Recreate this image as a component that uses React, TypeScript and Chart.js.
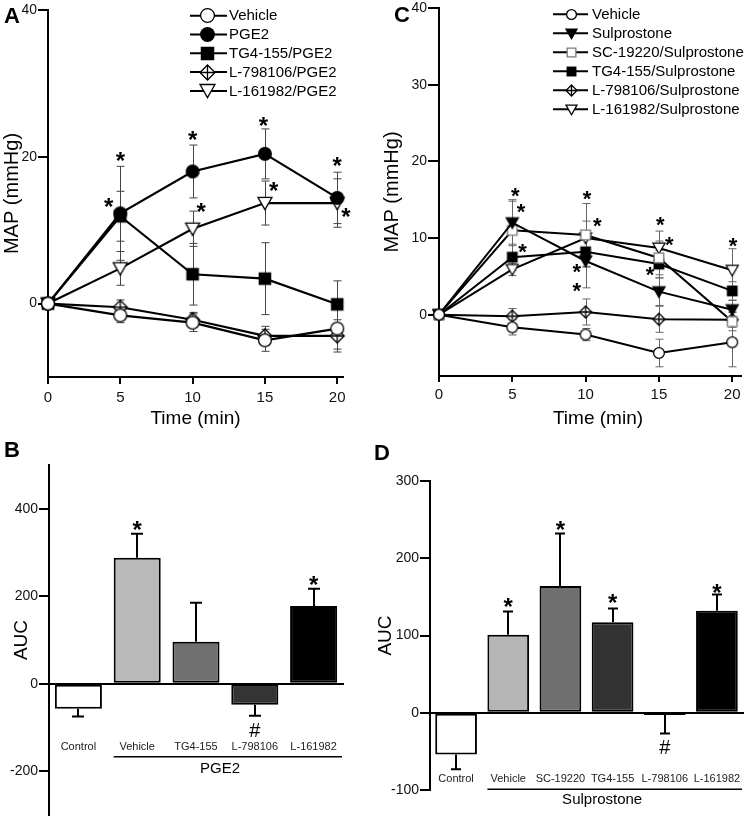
import React, { useEffect, useRef } from 'react';
import { Chart, registerables } from 'chart.js';

Chart.register(...registerables);

const FONT = "'Liberation Sans', Arial, Helvetica, sans-serif";

// ---------- shared time axis ----------
const timeMin = [0, 5, 10, 15, 20];
const timeTicks = [0, 5, 10, 15, 20];

// ---------- Panel A: PGE2 time course ----------
const aYTicks = [0, 20, 40];
const aNames = ['Vehicle', 'PGE2', 'TG4-155/PGE2', 'L-798106/PGE2', 'L-161982/PGE2'];
const aVehicle = [0, -1.6, -2.6, -5.0, -3.4];
const aVehicleSem = [0, 1.0, 1.2, 1.5, 2.8];
const aPGE2 = [0, 12.3, 18.0, 20.4, 14.4];
const aPGE2Sem = [0, 6.4, 3.6, 3.4, 3.5];
const aTG4 = [0, 11.9, 4.0, 3.4, -0.1];
const aTG4Sem = [0, 3.4, 4.2, 4.9, 3.2];
const aL798 = [0, -0.5, -2.2, -4.4, -4.4];
const aL798Sem = [0, 1.0, 1.0, 1.3, 2.2];
const aL161 = [0, 4.8, 10.2, 13.7, 13.7];
const aL161Sem = [0, 2.3, 2.4, 3.0, 3.3];
const aMarkers = ['circleOpen', 'circleFilled', 'squareFilled', 'diamondCross', 'triDownOpen'];
const aStarX = [5.0, 4.2, 10.0, 10.6, 14.9, 15.6, 20.0, 20.6];
const aStarY = [19.9, 13.6, 22.8, 12.9, 24.7, 15.8, 19.2, 12.3];

// ---------- Panel C: Sulprostone time course ----------
const cYTicks = [0, 10, 20, 30, 40];
const cNames = ['Vehicle', 'Sulprostone', 'SC-19220/Sulprostone', 'TG4-155/Sulprostone', 'L-798106/Sulprostone', 'L-161982/Sulprostone'];
const cVehicle = [0, -1.65, -2.6, -5.0, -3.6];
const cVehicleSem = [0, 1.0, 0.8, 1.8, 3.2];
const cSulpro = [0, 12.0, 7.0, 3.0, 0.65];
const cSulproSem = [0, 3.0, 3.5, 1.8, 1.2];
const cSC = [0, 11.0, 10.4, 7.4, -0.9];
const cSCSem = [0, 3.8, 4.1, 2.2, 1.2];
const cTG4 = [0, 7.5, 8.2, 6.6, 3.1];
const cTG4Sem = [0, 1.7, 2.0, 1.8, 1.2];
const cL798 = [0, -0.2, 0.35, -0.6, -0.65];
const cL798Sem = [0, 1.0, 1.7, 1.7, 1.0];
const cL161 = [0, 5.9, 10.0, 8.7, 5.8];
const cL161Sem = [0, 0.8, 2.2, 2.2, 2.8];
const cMarkers = ['circleOpen', 'triDownFilled', 'squareOpenGray', 'squareFilled', 'diamondCross', 'triDownOpen'];
const cStarX = [5.2, 5.6, 5.7, 10.1, 10.8, 9.4, 9.4, 15.1, 15.7, 14.4, 20.05];
const cStarY = [15.9, 13.8, 8.6, 15.6, 12.0, 6.0, 3.6, 12.1, 9.6, 5.7, 9.4];

// ---------- Panel B: AUC PGE2 ----------
const bCategories = ['Control', 'Vehicle', 'TG4-155', 'L-798106', 'L-161982'];
const bAUC = [-57, 288, 96, -48, 178];
const bSem = [18, 55, 89, 25, 39];
const bColors = ['#ffffff', '#b9b9b9', '#707070', '#343434', '#000000'];
const bYTicks = [-200, 0, 200, 400];
const bStarIdx = [1, 4];
const bStarY = [359, 233];
const bHashIdx = [3];
const bHashY = [-107];
const bGroup = 'PGE2';

// ---------- Panel D: AUC Sulprostone ----------
const dCategories = ['Control', 'Vehicle', 'SC-19220', 'TG4-155', 'L-798106', 'L-161982'];
const dAUC = [-54, 101, 164, 117, -3, 132];
const dSem = [19, 30, 68, 18, 24, 21];
const dColors = ['#ffffff', '#b6b6b6', '#6f6f6f', '#333333', '#222222', '#000000'];
const dYTicks = [-100, 0, 100, 200, 300];
const dStarIdx = [1, 2, 3, 5];
const dStarY = [142, 241, 146, 160];
const dHashIdx = [4];
const dHashY = [-45];
const dGroup = 'Sulprostone';

const STAR_RISE = 0.48;

function makeMarker(kind: string, size: number): HTMLCanvasElement {
  const s = Math.ceil(size) + 4;
  const c = document.createElement('canvas');
  c.width = s;
  c.height = s;
  const g = c.getContext('2d') as CanvasRenderingContext2D;
  const m = s / 2;
  const r = size / 2;
  g.lineWidth = 1.3;
  g.strokeStyle = '#000';
  g.fillStyle = '#fff';
  g.beginPath();
  if (kind === 'circleOpen') {
    g.arc(m, m, r - 0.6, 0, Math.PI * 2);
    g.fill();
    g.stroke();
  } else if (kind === 'circleFilled') {
    g.arc(m, m, r, 0, Math.PI * 2);
    g.fillStyle = '#000';
    g.fill();
  } else if (kind === 'squareFilled') {
    g.fillStyle = '#000';
    g.fillRect(m - r * 0.9, m - r * 0.9, 1.8 * r, 1.8 * r);
  } else if (kind === 'squareOpenGray') {
    g.strokeStyle = '#7a7a7a';
    g.rect(m - r * 0.9 + 0.6, m - r * 0.9 + 0.6, 1.8 * r - 1.2, 1.8 * r - 1.2);
    g.fill();
    g.stroke();
  } else if (kind === 'diamondCross') {
    g.moveTo(m, m - r);
    g.lineTo(m + r, m);
    g.lineTo(m, m + r);
    g.lineTo(m - r, m);
    g.closePath();
    g.fill();
    g.stroke();
    g.beginPath();
    g.moveTo(m - r, m);
    g.lineTo(m + r, m);
    g.moveTo(m, m - r);
    g.lineTo(m, m + r);
    g.stroke();
  } else if (kind === 'triDownOpen' || kind === 'triDownFilled') {
    const top = m - r * 0.8;
    const bot = m + r * 0.95;
    g.moveTo(m - r, top);
    g.lineTo(m + r, top);
    g.lineTo(m, bot);
    g.closePath();
    if (kind === 'triDownFilled') g.fillStyle = '#000';
    g.fill();
    g.stroke();
  }
  return c;
}

function zeroPad(s: any) {
  s.paddingLeft = 0;
  s.paddingRight = 0;
  s.paddingTop = 0;
  s.paddingBottom = 0;
}

function buildLine(canvas: HTMLCanvasElement, cfg: any) {
  const plotImgs = cfg.markers.map((k: string) => makeMarker(k, cfg.markerSize));
  const legendImgs = cfg.markers.map((k: string) => makeMarker(k, cfg.legendMarkerSize));
  const datasets = cfg.series.map((s: any, i: number) => ({
    label: s.name,
    data: timeMin.map((t, j) => ({ x: t, y: s.values[j] })),
    borderColor: '#000',
    backgroundColor: '#000',
    borderWidth: cfg.lineWidth,
    pointStyle: plotImgs[i],
    pointRadius: cfg.markerSize / 2,
    pointHoverRadius: cfg.markerSize / 2,
    clip: false,
    tension: 0,
    fill: false,
  }));
  const plugin = {
    id: 'extrasLine',
    beforeDatasetsDraw(chart: any) {
      const ctx = chart.ctx;
      const xs = chart.scales.x;
      const ys = chart.scales.y;
      ctx.save();
      ctx.strokeStyle = cfg.errColor;
      ctx.lineWidth = 1;
      cfg.series.forEach((s: any) => {
        s.values.forEach((v: number, j: number) => {
          const e = s.errors[j];
          if (!e) return;
          const px = Math.round(xs.getPixelForValue(timeMin[j])) + 0.5;
          const yt = ys.getPixelForValue(v + e);
          const yb = ys.getPixelForValue(v - e);
          ctx.beginPath();
          ctx.moveTo(px, yt);
          ctx.lineTo(px, yb);
          ctx.moveTo(px - cfg.cap, yt);
          ctx.lineTo(px + cfg.cap, yt);
          ctx.moveTo(px - cfg.cap, yb);
          ctx.lineTo(px + cfg.cap, yb);
          ctx.stroke();
        });
      });
      ctx.restore();
    },
    afterDraw(chart: any) {
      const ctx = chart.ctx;
      const xs = chart.scales.x;
      const ys = chart.scales.y;
      ctx.save();
      ctx.fillStyle = '#000';
      ctx.font = `bold ${cfg.starSize}px ${FONT}`;
      ctx.textAlign = 'center';
      ctx.textBaseline = 'alphabetic';
      cfg.starX.forEach((sx: number, i: number) => {
        ctx.fillText('*', xs.getPixelForValue(sx), ys.getPixelForValue(cfg.starY[i]) + cfg.starSize * STAR_RISE);
      });
      const L = cfg.legend;
      cfg.series.forEach((s: any, i: number) => {
        const y = L.y0 + i * L.dy;
        ctx.strokeStyle = '#000';
        ctx.lineWidth = 2;
        ctx.beginPath();
        ctx.moveTo(L.x1, y);
        ctx.lineTo(L.x2, y);
        ctx.stroke();
        const img = legendImgs[i];
        ctx.drawImage(img, Math.round(L.xm - img.width / 2), Math.round(y - img.height / 2));
        ctx.font = `${L.fontSize}px ${FONT}`;
        ctx.textAlign = 'left';
        ctx.textBaseline = 'middle';
        ctx.fillStyle = '#000';
        ctx.fillText(s.name, L.xt, y + 0.5);
      });
      if (cfg.xTitleX !== undefined) {
        ctx.font = `19px ${FONT}`;
        ctx.textAlign = 'center';
        ctx.textBaseline = 'middle';
        ctx.fillText('Time (min)', cfg.xTitleX, cfg.xTitleY);
      }
      ctx.font = `bold ${cfg.letter.size}px ${FONT}`;
      ctx.textAlign = 'left';
      ctx.textBaseline = 'alphabetic';
      ctx.fillText(cfg.letter.text, cfg.letter.x, cfg.letter.y);
      ctx.restore();
    },
  };
  return new Chart(canvas, {
    type: 'line',
    data: { datasets },
    options: {
      responsive: false,
      animation: false,
      events: [],
      layout: { padding: cfg.padding },
      plugins: { legend: { display: false }, tooltip: { enabled: false } },
      scales: {
        x: {
          type: 'linear',
          min: 0,
          max: cfg.xMax,
          afterBuildTicks: (s: any) => {
            s.ticks = timeTicks.map((v) => ({ value: v }));
          },
          afterFit: (s: any) => {
            s.height = cfg.xAxisHeight;
            zeroPad(s);
          },
          grid: { display: true, drawOnChartArea: false, drawTicks: true, tickLength: cfg.xTickLen, color: '#000', lineWidth: 2 },
          border: { display: true, color: '#000', width: 2 },
          ticks: { font: { family: FONT, size: 15 }, color: '#111', padding: cfg.xTickPad, maxRotation: 0, autoSkip: false },
          title: { display: cfg.xTitleX === undefined, text: 'Time (min)', font: { family: FONT, size: 19 }, color: '#000', padding: 0 },
        },
        y: {
          type: 'linear',
          min: cfg.yMin,
          max: cfg.yMax,
          afterBuildTicks: (s: any) => {
            s.ticks = cfg.yTicks.map((v: number) => ({ value: v }));
          },
          afterFit: (s: any) => {
            s.width = cfg.yAxisWidth;
            zeroPad(s);
          },
          grid: { display: true, drawOnChartArea: false, drawTicks: true, tickLength: cfg.yTickLen, color: '#000', lineWidth: 2 },
          border: { display: true, color: '#000', width: 2 },
          ticks: { font: { family: FONT, size: 14 }, color: '#111', padding: 1, autoSkip: false },
          title: { display: true, text: 'MAP (mmHg)', font: { family: FONT, size: 20 }, color: '#000', padding: { top: cfg.yTitlePad, bottom: 0 } },
        },
      },
    } as any,
    plugins: [plugin],
  });
}

function buildBar(canvas: HTMLCanvasElement, cfg: any) {
  const plugin = {
    id: 'extrasBar',
    afterDatasetsDraw(chart: any) {
      const ctx = chart.ctx;
      const ys = chart.scales.y;
      const meta = chart.getDatasetMeta(0);
      ctx.save();
      ctx.strokeStyle = '#000';
      ctx.lineWidth = 2;
      cfg.values.forEach((v: number, i: number) => {
        const e = cfg.errors[i];
        const px = Math.round(meta.data[i].x);
        const y0 = ys.getPixelForValue(v);
        const y1 = ys.getPixelForValue(v >= 0 ? v + e : v - e);
        ctx.beginPath();
        ctx.moveTo(px, y0);
        ctx.lineTo(px, y1);
        ctx.moveTo(px - cfg.cap, y1);
        ctx.lineTo(px + cfg.cap, y1);
        ctx.stroke();
      });
      ctx.restore();
    },
    afterDraw(chart: any) {
      const ctx = chart.ctx;
      const xs = chart.scales.x;
      const ys = chart.scales.y;
      const meta = chart.getDatasetMeta(0);
      ctx.save();
      ctx.fillStyle = '#000';
      ctx.textAlign = 'center';
      ctx.textBaseline = 'alphabetic';
      ctx.font = `bold ${cfg.starSize}px ${FONT}`;
      cfg.starIdx.forEach((ci: number, k: number) => {
        ctx.fillText('*', xs.getPixelForValue(ci), ys.getPixelForValue(cfg.starY[k]) + cfg.starSize * STAR_RISE);
      });
      ctx.font = `${cfg.hashSize}px ${FONT}`;
      cfg.hashIdx.forEach((ci: number, k: number) => {
        ctx.fillText('#', xs.getPixelForValue(ci), ys.getPixelForValue(cfg.hashY[k]) + cfg.hashSize * 0.34);
      });
      ctx.font = `11px ${FONT}`;
      ctx.fillStyle = '#222';
      ctx.textBaseline = 'middle';
      cfg.categories.forEach((c: string, i: number) => {
        ctx.fillText(c, xs.getPixelForValue(i), ys.getPixelForValue(cfg.labelY));
      });
      const bar1 = meta.data[1];
      const gx1 = bar1.x - bar1.width / 2;
      const gx2 = chart.chartArea.right - 1;
      const gy = ys.getPixelForValue(cfg.groupLineY);
      ctx.strokeStyle = '#000';
      ctx.lineWidth = 1.5;
      ctx.beginPath();
      ctx.moveTo(gx1, gy);
      ctx.lineTo(gx2, gy);
      ctx.stroke();
      ctx.fillStyle = '#000';
      ctx.font = `15px ${FONT}`;
      ctx.fillText(cfg.group, xs.getPixelForValue(cfg.groupLabelIdx), ys.getPixelForValue(cfg.groupLabelY));
      ctx.font = `bold ${cfg.letter.size}px ${FONT}`;
      ctx.textAlign = 'left';
      ctx.textBaseline = 'alphabetic';
      ctx.fillText(cfg.letter.text, cfg.letter.x, cfg.letter.y);
      ctx.restore();
    },
  };
  return new Chart(canvas, {
    type: 'bar',
    data: {
      labels: cfg.categories,
      datasets: [
        {
          data: cfg.values,
          backgroundColor: cfg.colors,
          borderColor: '#000',
          borderWidth: 2,
          borderSkipped: false,
          barPercentage: 0.8,
          categoryPercentage: 1,
        },
      ],
    },
    options: {
      responsive: false,
      animation: false,
      events: [],
      layout: { padding: cfg.padding },
      plugins: { legend: { display: false }, tooltip: { enabled: false } },
      scales: {
        x: {
          type: 'category',
          position: { y: 0 },
          offset: true,
          grid: { display: false },
          ticks: { display: false },
          border: { display: true, color: '#000', width: 2 },
        },
        y: {
          type: 'linear',
          min: cfg.yMin,
          max: cfg.yMax,
          afterBuildTicks: (s: any) => {
            s.ticks = cfg.yTicks.map((v: number) => ({ value: v }));
          },
          afterFit: (s: any) => {
            s.width = cfg.yAxisWidth;
            zeroPad(s);
          },
          grid: { display: true, drawOnChartArea: false, drawTicks: true, tickLength: 10, color: '#000', lineWidth: 2 },
          border: { display: true, color: '#000', width: 2 },
          ticks: { font: { family: FONT, size: 14 }, color: '#111', padding: 1, autoSkip: false },
          title: { display: true, text: 'AUC', font: { family: FONT, size: 19 }, color: '#000', padding: { top: cfg.yTitlePad, bottom: 0 } },
        },
      },
    } as any,
    plugins: [plugin],
  });
}

export default function App() {
  const refA = useRef<HTMLCanvasElement>(null);
  const refB = useRef<HTMLCanvasElement>(null);
  const refC = useRef<HTMLCanvasElement>(null);
  const refD = useRef<HTMLCanvasElement>(null);

  useEffect(() => {
    const charts: Chart[] = [];
    charts.push(
      buildLine(refA.current as HTMLCanvasElement, {
        series: [
          { name: aNames[0], values: aVehicle, errors: aVehicleSem },
          { name: aNames[1], values: aPGE2, errors: aPGE2Sem },
          { name: aNames[2], values: aTG4, errors: aTG4Sem },
          { name: aNames[3], values: aL798, errors: aL798Sem },
          { name: aNames[4], values: aL161, errors: aL161Sem },
        ],
        markers: aMarkers,
        markerSize: 14,
        legendMarkerSize: 15,
        lineWidth: 2.2,
        errColor: '#444',
        cap: 4,
        yMin: -10,
        yMax: 40,
        yTicks: aYTicks,
        xMax: 20.4,
        yAxisWidth: 48,
        xAxisHeight: 53,
        padding: { left: 0, top: 10, right: 27, bottom: 0 },
        xTickLen: 7,
        xTickPad: 5,
        yTickLen: 10,
        yTitlePad: 0,
        starX: aStarX,
        starY: aStarY,
        starSize: 24,
        legend: { x1: 190, x2: 227, xm: 207, xt: 229, y0: 15.7, dy: 18.8, fontSize: 15 },
        letter: { text: 'A', x: 4, y: 23, size: 22 },
      })
    );
    charts.push(
      buildLine(refC.current as HTMLCanvasElement, {
        series: [
          { name: cNames[0], values: cVehicle, errors: cVehicleSem },
          { name: cNames[1], values: cSulpro, errors: cSulproSem },
          { name: cNames[2], values: cSC, errors: cSCSem },
          { name: cNames[3], values: cTG4, errors: cTG4Sem },
          { name: cNames[4], values: cL798, errors: cL798Sem },
          { name: cNames[5], values: cL161, errors: cL161Sem },
        ],
        markers: cMarkers,
        markerSize: 12,
        legendMarkerSize: 11,
        lineWidth: 2,
        errColor: '#666',
        cap: 4,
        yMin: -8,
        yMax: 40,
        yTicks: cYTicks,
        xMax: 20.6,
        yAxisWidth: 69,
        xAxisHeight: 54,
        padding: { left: 0, top: 8, right: 8, bottom: 0 },
        xTickLen: 6,
        xTickPad: 4,
        yTickLen: 11,
        yTitlePad: 10,
        xTitleX: 228,
        xTitleY: 419,
        starX: cStarX,
        starY: cStarY,
        starSize: 22,
        legend: { x1: 183, x2: 218, xm: 201, xt: 222, y0: 14.3, dy: 19, fontSize: 15 },
        letter: { text: 'C', x: 24, y: 22, size: 22 },
      })
    );
    charts.push(
      buildBar(refB.current as HTMLCanvasElement, {
        categories: bCategories,
        values: bAUC,
        errors: bSem,
        colors: bColors,
        yMin: -300,
        yMax: 500,
        yTicks: bYTicks,
        yAxisWidth: 49,
        padding: { left: 0, top: 35, right: 27, bottom: 4 },
        yTitlePad: 10,
        cap: 6,
        starIdx: bStarIdx,
        starY: bStarY,
        starSize: 24,
        hashIdx: bHashIdx,
        hashY: bHashY,
        hashSize: 20,
        labelY: -144,
        groupLineY: -167,
        groupLabelY: -194,
        groupLabelIdx: 2.41,
        group: bGroup,
        letter: { text: 'B', x: 4, y: 27, size: 22 },
      })
    );
    charts.push(
      buildBar(refD.current as HTMLCanvasElement, {
        categories: dCategories,
        values: dAUC,
        errors: dSem,
        colors: dColors,
        yMin: -100,
        yMax: 300,
        yTicks: dYTicks,
        yAxisWidth: 60,
        padding: { left: 0, top: 51, right: 6, bottom: 29 },
        yTitlePad: 4,
        cap: 5,
        starIdx: dStarIdx,
        starY: dStarY,
        starSize: 24,
        hashIdx: dHashIdx,
        hashY: dHashY,
        hashSize: 20,
        labelY: -86,
        groupLineY: -99,
        groupLabelY: -113,
        groupLabelIdx: 2.8,
        group: dGroup,
        letter: { text: 'D', x: 4, y: 30, size: 22 },
      })
    );
    return () => {
      charts.forEach((c) => c.destroy());
    };
  }, []);

  return (
    <div style={{ position: 'absolute', left: 0, top: 0, width: 749, height: 819, background: '#fff', overflow: 'hidden' }}>
      <canvas ref={refA} width={370} height={430} style={{ position: 'absolute', left: 0, top: 0, width: 370, height: 430 }} />
      <canvas ref={refC} width={379} height={430} style={{ position: 'absolute', left: 370, top: 0, width: 379, height: 430 }} />
      <canvas ref={refB} width={370} height={389} style={{ position: 'absolute', left: 0, top: 430, width: 370, height: 389 }} />
      <canvas ref={refD} width={379} height={389} style={{ position: 'absolute', left: 370, top: 430, width: 379, height: 389 }} />
    </div>
  );
}
